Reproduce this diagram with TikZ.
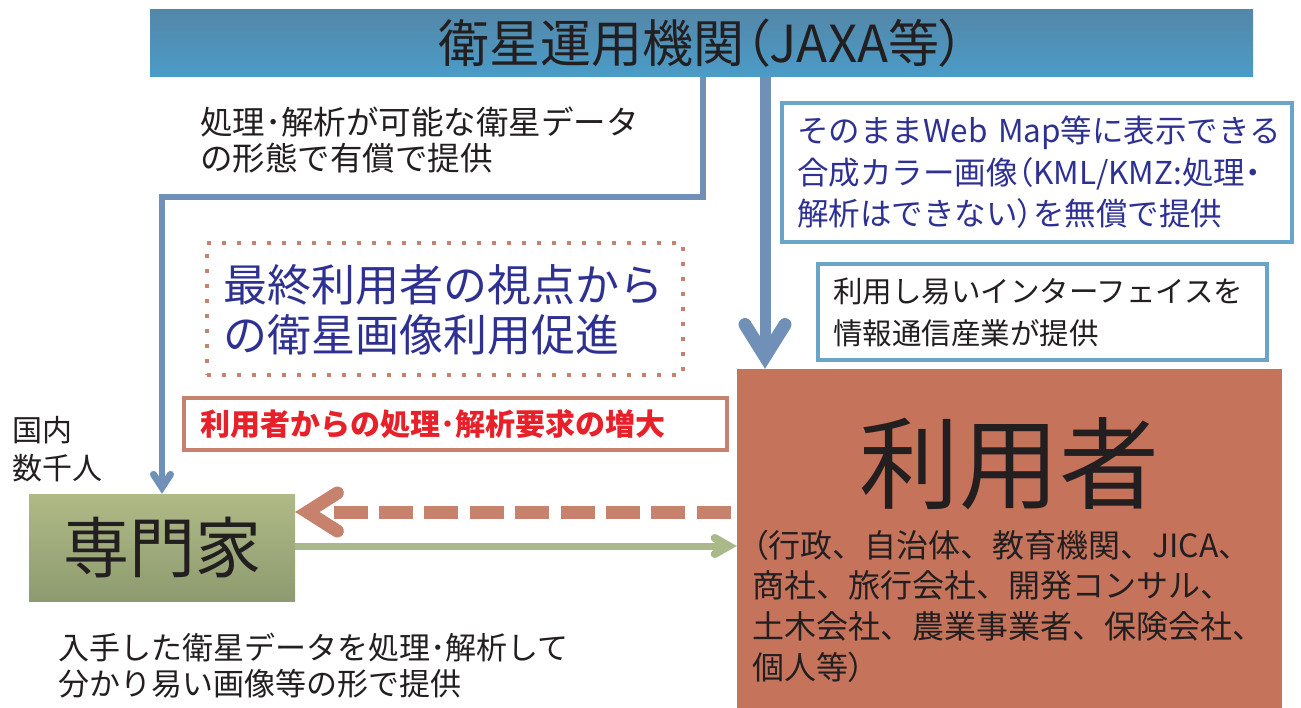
\documentclass[tikz,border=0pt]{standalone}
\usepackage{fontspec}
\setmainfont{Noto Sans CJK JP}
\newfontfamily\jpp[RawFeature=+palt]{Noto Sans CJK JP}
\usetikzlibrary{arrows.meta}
\definecolor{bannerTop}{HTML}{5487A8}
\definecolor{bannerBot}{HTML}{4A9CC8}
\definecolor{conBlue}{HTML}{7190B8}
\definecolor{boxBlue}{HTML}{6AA5C8}
\definecolor{darkBlue}{HTML}{2E3192}
\definecolor{salmon}{HTML}{C6826C}
\definecolor{alertRed}{HTML}{E8202A}
\definecolor{usersFill}{HTML}{C5735A}
\definecolor{greenTop}{HTML}{AFBA86}
\definecolor{greenBot}{HTML}{8E9B6F}
\definecolor{greenLine}{HTML}{A9B98A}
\definecolor{inkBlack}{HTML}{231F20}
\tikzset{
  bannerbox/.style={minimum width=1103pt, minimum height=67pt, inner sep=0pt,
    top color=bannerTop, bottom color=bannerBot, text=inkBlack,
    font=\fontsize{51}{51}\selectfont},
  expertbox/.style={minimum width=266pt, minimum height=107pt, inner sep=0pt,
    top color=greenTop, bottom color=greenBot, text=inkBlack,
    font=\fontsize{66}{66}\selectfont},
  usersbox/.style={minimum width=545pt, minimum height=339pt, inner sep=0pt,
    fill=usersFill},
  plaintext/.style={inner sep=0pt, anchor=west, align=left, text=inkBlack},
  bluecon/.style={draw=conBlue, line width=6.5pt, line join=miter,
    -{Straight Barb[length=13pt, width=17pt, line width=7pt, line cap=round, line join=miter]}},
  bigblue/.style={draw=conBlue, line width=11pt,
    -{Straight Barb[length=32pt, width=40pt, line width=13pt, line cap=round, line join=miter]}},
  dasharrow/.style={draw=salmon, line width=13pt,
    dash pattern=on 0pt off 6pt on 34pt off 11.4pt on 34pt off 11.4pt on 34pt off 11.4pt on 34pt off 11.4pt on 34pt off 11.4pt on 34pt off 11.4pt on 34pt off 11.4pt on 34pt off 11.4pt on 34pt off 300pt,
    -{Straight Barb[length=30pt, width=38pt, line width=13pt, line cap=round, line join=miter]}},
  greenarrow/.style={draw=greenLine, line width=7pt,
    -{Straight Barb[length=14pt, width=16pt, line width=8pt, line cap=round, line join=miter]}},
}
\begin{document}
\begin{tikzpicture}[x=1pt, y=-1pt]
\useasboundingbox (0,0) rectangle (1301,708);
\fill[white] (0,0) rectangle (1301,708);

% main boxes
\node[bannerbox] (banner) at (701.5,43.5) {衛星運用機関{\jpp（}JAXA等{\jpp）}};
\node[expertbox] (expert) at (162,547.5) {専門家};
\node[usersbox] (users) at (1009.5,538.5) {};
\node[inner sep=0pt, text=inkBlack, font=\fontsize{100}{100}\selectfont] (userstitle) at (1009.5,464) {利用者};
\node[plaintext, font=\fontsize{32}{40.7}\selectfont] (userlist) at (752,606)
  {{\jpp（}行政、自治体、教育機関、JICA、\\商社、旅行会社、開発コンサル、\\土木会社、農業事業者、保険会社、\\個人等{\jpp）}};

% framed texts
\node[draw=boxBlue, line width=3.5pt, minimum width=510pt, minimum height=139pt,
      inner xsep=15pt, inner ysep=0pt, text width=480pt, align=left, text=darkBlue,
      font=\fontsize{31.5}{41.5}\selectfont] (webmap) at (1037,172.5)
  {そのままWeb~Map等に表示できる\\合成カラー画像{\jpp（}KML/KMZ:処理{\jpp ・}\\解析はできない{\jpp）}を無償で提供};
\node[draw=boxBlue, line width=3.5pt, minimum width=449pt, minimum height=96pt,
      inner xsep=15pt, inner ysep=0pt, text width=419pt, align=left, text=inkBlack,
      font=\fontsize{29.5}{42}\selectfont] (iface) at (1042.5,312)
  {利用し易いインターフェイスを\\情報通信産業が提供};
\node[draw=salmon, line width=4pt, dash pattern=on 4pt off 11pt,
      minimum width=476pt, minimum height=132pt,
      inner xsep=16pt, inner ysep=0pt, text width=444pt, align=left, text=darkBlue,
      font=\fontsize{44}{50}\selectfont] (promo) at (445,309.5)
  {最終利用者の視点から\\の衛星画像利用促進};
\node[draw=salmon, line width=4pt, minimum width=543pt, minimum height=52pt,
      inner xsep=16pt, inner ysep=0pt, text width=511pt, align=left, text=alertRed,
      font=\bfseries\fontsize{30}{30}\selectfont] (demand) at (455.5,424)
  {利用者からの処理･解析要求の増大};

% plain texts
\node[plaintext, font=\fontsize{32.5}{36}\selectfont] (paid) at (200,140.5)
  {処理･解析が可能な衛星データ\\の形態で有償で提供};
\node[plaintext, font=\fontsize{30}{38}\selectfont] (domestic) at (12,449)
  {国内\\数千人};
\node[plaintext, font=\fontsize{31}{36}\selectfont] (process) at (58,666)
  {入手した衛星データを処理･解析して\\分かり易い画像等の形で提供};

% connectors
\coordinate (bendR) at (703,197);
\coordinate (bendL) at (162,197);
\draw[bluecon] (banner.south -| bendR) -- (bendR) -- (bendL) -- (expert.north -| bendL);
\coordinate (mainx) at (765,0);
\draw[bigblue] (banner.south -| mainx) -- (users.north -| mainx);
\coordinate (dashy) at (0,512);
\draw[dasharrow] (users.west |- dashy) -- (expert.east |- dashy);
\coordinate (greeny) at (0,546);
\draw[greenarrow] (expert.east |- greeny) -- (users.west |- greeny);
\end{tikzpicture}
\end{document}
